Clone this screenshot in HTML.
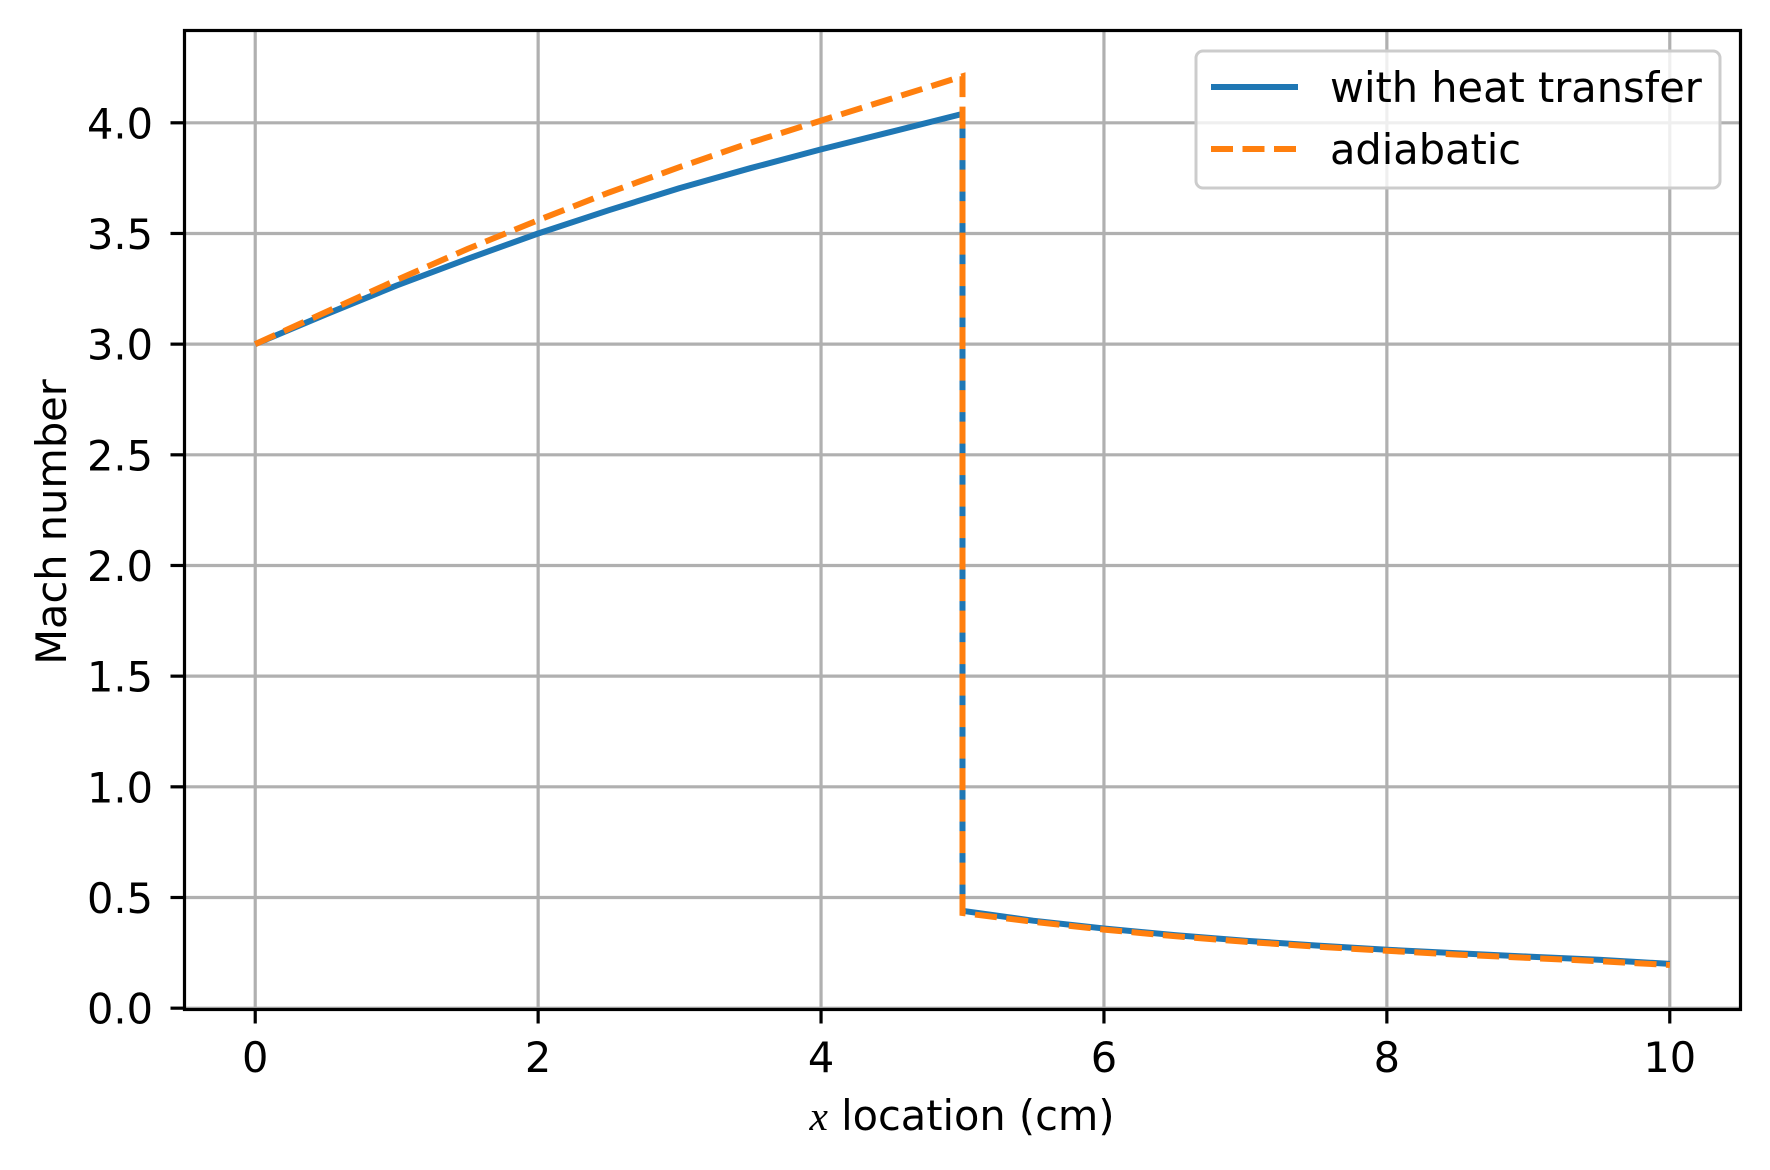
<!DOCTYPE html>
<html><head><meta charset="utf-8"><style>
html,body{margin:0;padding:0;background:#fff;}
svg{display:block;font-family:"DejaVu Sans","Liberation Sans",sans-serif;}
</style></head><body>
<svg id="chart" width="1770" height="1170" viewBox="0 0 1770 1170" xmlns="http://www.w3.org/2000/svg">
<rect width="1770" height="1170" fill="#fff"/>
<g id="grid"></g>
<g id="series"></g>
<g id="axes"></g>
<text x="962" y="1130" font-size="41.5" text-anchor="middle"><tspan font-family="'Liberation Serif',serif" font-style="italic">x</tspan> location (cm)</text>
<text transform="translate(66,522) rotate(-90)" font-size="41.5" text-anchor="middle">Mach number</text>
<g>
<rect x="1196" y="51" width="524" height="137" rx="7" fill="#fff" fill-opacity="0.8" stroke="#ccc" stroke-width="3"/>
<line x1="1211" y1="87" x2="1298" y2="87" stroke="#1f77b4" stroke-width="6"/>
<text x="1330" y="102" font-size="41.5">with heat transfer</text>
<line x1="1211" y1="149" x2="1298" y2="149" stroke="#ff7f0e" stroke-width="6" stroke-dasharray="22 9.5"/>
<text x="1330" y="164" font-size="41.5">adiabatic</text>
</g>
</svg>
<script>
const xUp = [0, 0.5, 1, 1.5, 2, 2.5, 3, 3.5, 4, 4.5, 5];
const machHeatUp = [3.0, 3.135, 3.265, 3.385, 3.5, 3.605, 3.705, 3.795, 3.88, 3.96, 4.04];
const machAdiaUp = [3.0, 3.145, 3.29, 3.43, 3.56, 3.685, 3.8, 3.91, 4.01, 4.11, 4.21];
const xDown = [5, 5.5, 6, 6.5, 7, 7.5, 8, 8.5, 9, 9.5, 10];
const machHeatDown = [0.44, 0.395, 0.36, 0.33, 0.305, 0.283, 0.264, 0.248, 0.233, 0.219, 0.2];
const machAdiaDown = [0.43, 0.39, 0.355, 0.325, 0.3, 0.278, 0.259, 0.242, 0.227, 0.212, 0.195];
const xTicks = [0, 2, 4, 6, 8, 10];
const yTicks = [0, 0.5, 1, 1.5, 2, 2.5, 3, 3.5, 4];
const yTickLabels = ["0.0","0.5","1.0","1.5","2.0","2.5","3.0","3.5","4.0"];

const L=184.5, R=1740.5, T=30.5, B=1009.5;
const xmin=-0.5, xmax=10.5, ymin=-0.006, ymax=4.417;
const sx = v => L + (v - xmin) / (xmax - xmin) * (R - L);
const sy = v => B - (v - ymin) / (ymax - ymin) * (B - T);
const NS = "http://www.w3.org/2000/svg";
function mk(tag, attrs, parent){ const e=document.createElementNS(NS,tag); for(const k in attrs) e.setAttribute(k,attrs[k]); parent.appendChild(e); return e; }
const grid=document.getElementById('grid'), axes=document.getElementById('axes'), series=document.getElementById('series');

xTicks.forEach((t,i)=>{
  const x=sx(t);
  const g=mk('line',{x1:x,y1:T,x2:x,y2:B,stroke:'#b0b0b0','stroke-width':3.2},grid);
  
  
  const tk=mk('line',{x1:x,y1:B,x2:x,y2:B+14,stroke:'#000','stroke-width':3.2},axes);
  
  
  const lb=mk('text',{x:x,y:1072,'font-size':41.5,'text-anchor':'middle'},axes);
  lb.textContent=String(t);
  
  
});
yTicks.forEach((t,i)=>{
  const y=sy(t);
  const g=mk('line',{x1:L,y1:y,x2:R,y2:y,stroke:'#b0b0b0','stroke-width':3.2},grid);
  
  
  const tk=mk('line',{x1:L-14,y1:y,x2:L,y2:y,stroke:'#000','stroke-width':3.2},axes);
  
  
  const lb=mk('text',{x:153,y:y+15.5,'font-size':41.5,'text-anchor':'end'},axes);
  lb.textContent=yTickLabels[i];
  
  
});
const sp=mk('rect',{x:L,y:T,width:R-L,height:B-T,fill:'none',stroke:'#000','stroke-width':3.2},axes);



function pts(xa,ya){ return xa.map((x,i)=>sx(x).toFixed(1)+','+sy(ya[i]).toFixed(1)); }
const heatPts = pts(xUp,machHeatUp).concat(pts(xDown,machHeatDown));
const adiaPts = pts(xUp,machAdiaUp).concat(pts(xDown,machAdiaDown));
const p1=mk('polyline',{points:heatPts.join(' '),fill:'none',stroke:'#1f77b4','stroke-width':6,'stroke-linejoin':'round'},series);


const p2=mk('polyline',{points:adiaPts.join(' '),fill:'none',stroke:'#ff7f0e','stroke-width':6,'stroke-dasharray':'22 9.5'},series);


</script>
</body></html>
